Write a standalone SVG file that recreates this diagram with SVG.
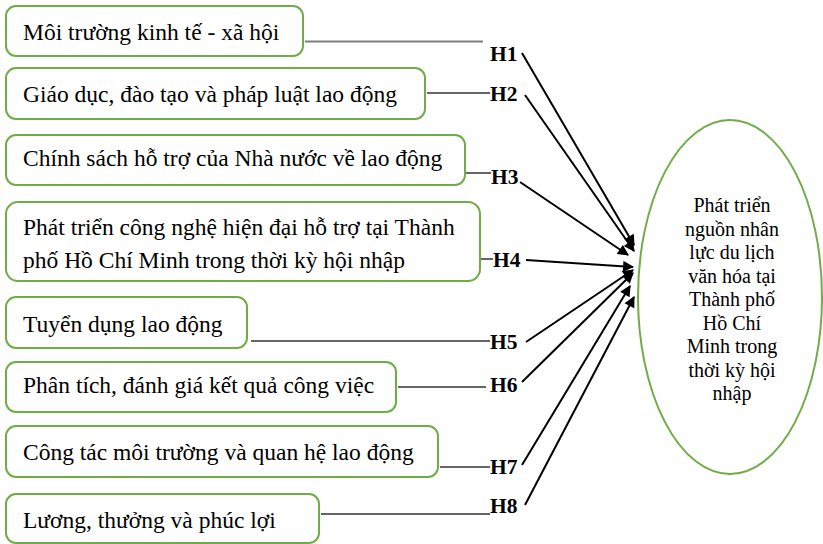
<svg xmlns="http://www.w3.org/2000/svg" width="823" height="544" viewBox="0 0 823 544">
  <style>
    .box { fill: #ffffff; stroke: #70ad47; stroke-width: 2; }
    .lbl { font-family: "Liberation Serif", "Times New Roman", serif; font-size: 23.5px; fill: #000; }
    .h { font-family: "Liberation Serif", "Times New Roman", serif; font-size: 21.5px; font-weight: bold; fill: #000; }
    .tail { stroke: #333; stroke-width: 1.5; fill: none; }
    .arrow { stroke: #000; stroke-width: 2; fill: none; marker-end: url(#head); }
    .goal { font-family: "Liberation Serif", "Times New Roman", serif; font-size: 20px; fill: #000; text-anchor: middle; }
  </style>
  <defs>
    <marker id="head" viewBox="0 0 10 10" refX="9" refY="5" markerWidth="6.5" markerHeight="5.5" orient="auto" markerUnits="strokeWidth">
      <path d="M0,0 L10,5 L0,10 Z" fill="#000"/>
    </marker>
  </defs>
  <rect width="823" height="544" fill="#ffffff"/>

  <g id="connectors">
    <line x1="305" y1="41.5" x2="483" y2="41.5" stroke="#7f7f7f" stroke-width="2"/>
    <line class="tail" x1="427" y1="93" x2="490" y2="93"/>
    <line class="tail" x1="466" y1="173" x2="491" y2="173"/>
    <line class="tail" x1="481" y1="259" x2="493" y2="259"/>
    <line class="tail" x1="251" y1="341" x2="490" y2="341"/>
    <line class="tail" x1="398" y1="387" x2="486" y2="387"/>
    <line class="tail" x1="440" y1="467" x2="490" y2="467"/>
    <line class="tail" x1="321" y1="514" x2="490" y2="514"/>

    <line class="arrow" x1="522" y1="53" x2="634" y2="245"/>
    <line class="arrow" x1="525" y1="95" x2="634" y2="251"/>
    <line class="arrow" x1="520" y1="182" x2="628" y2="255"/>
    <line class="arrow" x1="526" y1="260" x2="633" y2="267"/>
    <line class="arrow" x1="526" y1="342" x2="633" y2="270"/>
    <line class="arrow" x1="522" y1="382" x2="633" y2="273"/>
    <line class="arrow" x1="522" y1="465" x2="630" y2="286"/>
    <line class="arrow" x1="525" y1="505" x2="634" y2="297"/>
  </g>

  <g id="n1">
    <rect class="box" x="6" y="6" width="297" height="50" rx="10"/>
    <text class="lbl" x="23" y="40">Môi trường kinh tế - xã hội</text>
  </g>
  <g id="n2">
    <rect class="box" x="6" y="68" width="419" height="51" rx="10"/>
    <text class="lbl" x="23" y="102">Giáo dục, đào tạo và pháp luật lao động</text>
  </g>
  <g id="n3">
    <rect class="box" x="6" y="135" width="459" height="50" rx="10"/>
    <text class="lbl" x="23" y="166">Chính sách hỗ trợ của Nhà nước về lao động</text>
  </g>
  <g id="n4">
    <rect class="box" x="6" y="202" width="474" height="79" rx="12"/>
    <text class="lbl" x="23" y="235">Phát triển công nghệ hiện đại hỗ trợ tại Thành</text>
    <text class="lbl" x="23" y="268">phố Hồ Chí Minh trong thời kỳ hội nhập</text>
  </g>
  <g id="n5">
    <rect class="box" x="6" y="297" width="241" height="51" rx="10"/>
    <text class="lbl" x="23" y="332">Tuyển dụng lao động</text>
  </g>
  <g id="n6">
    <rect class="box" x="6" y="362" width="390" height="50" rx="10"/>
    <text class="lbl" x="23" y="393">Phân tích, đánh giá kết quả công việc</text>
  </g>
  <g id="n7">
    <rect class="box" x="6" y="426" width="432" height="51" rx="10"/>
    <text class="lbl" x="23" y="460">Công tác môi trường và quan hệ lao động</text>
  </g>
  <g id="n8">
    <rect class="box" x="6" y="494" width="313" height="49" rx="10"/>
    <text class="lbl" x="23" y="528">Lương, thưởng và phúc lợi</text>
  </g>

  <g id="labels">
    <text class="h" x="490" y="61">H1</text>
    <text class="h" x="490" y="101">H2</text>
    <text class="h" x="491" y="184">H3</text>
    <text class="h" x="493" y="267">H4</text>
    <text class="h" x="490" y="349">H5</text>
    <text class="h" x="490" y="392">H6</text>
    <text class="h" x="490" y="474">H7</text>
    <text class="h" x="490" y="513">H8</text>
  </g>

  <g id="goal">
    <ellipse cx="730" cy="297" rx="92" ry="177" fill="#ffffff" stroke="#70ad47" stroke-width="2"/>
    <text class="goal" x="732" y="212">Phát triển</text>
    <text class="goal" x="732" y="235.5">nguồn nhân</text>
    <text class="goal" x="732" y="259">lực du lịch</text>
    <text class="goal" x="732" y="282.5">văn hóa tại</text>
    <text class="goal" x="732" y="306">Thành phố</text>
    <text class="goal" x="732" y="329.5">Hồ Chí</text>
    <text class="goal" x="732" y="353">Minh trong</text>
    <text class="goal" x="732" y="376.5">thời kỳ hội</text>
    <text class="goal" x="732" y="400">nhập</text>
  </g>
</svg>
